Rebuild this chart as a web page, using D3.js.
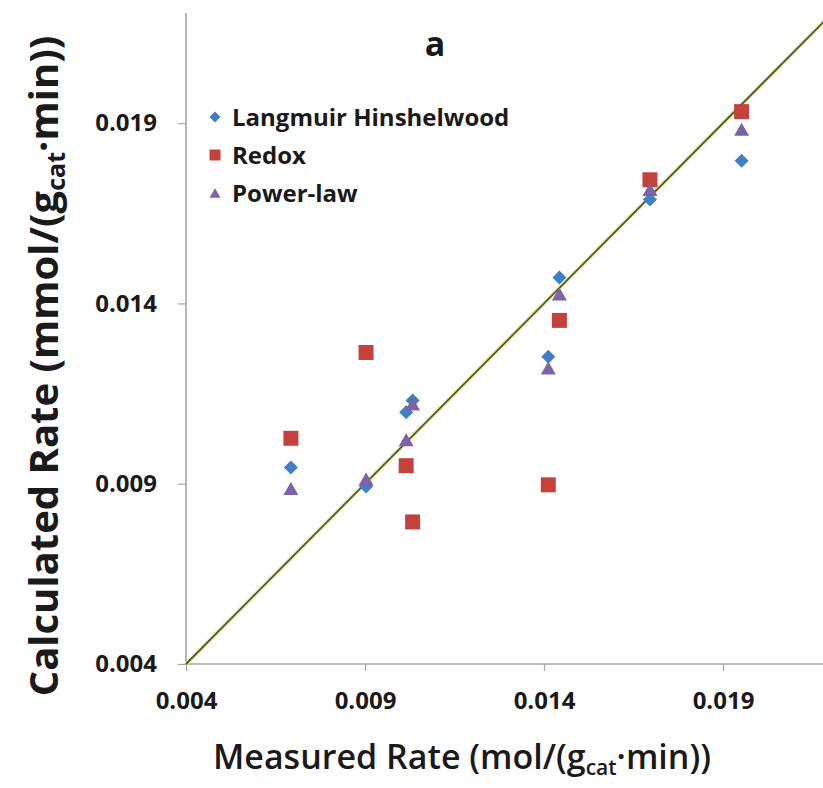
<!DOCTYPE html>
<html>
<head>
<meta charset="utf-8">
<script src="https://cdn.jsdelivr.net/npm/d3@7"></script>
<style>
  html, body { margin: 0; padding: 0; background: #fff; }
  svg { display: block; }
  text { font-family: "Open Sans", "Lato", sans-serif; fill: #1a1a1a; }
</style>
</head>
<body>
<svg id="chart" width="823" height="788"></svg>
<script>
// Measured vs. calculated reaction rates for three kinetic models
const measured   = [0.00693, 0.00903, 0.01015, 0.01033, 0.01412, 0.01443, 0.01696, 0.01952];
const langmuirHW = [0.00945, 0.00892, 0.01098, 0.01131, 0.01252, 0.01472, 0.01688, 0.01796];
const redox      = [0.01026, 0.01264, 0.00950, 0.00794, 0.00897, 0.01353, 0.01743, 0.01932];
const powerLaw   = [0.00887, 0.00913, 0.01022, 0.01121, 0.01221, 0.01426, 0.01716, 0.01883];
const seriesNames = ["Langmuir Hinshelwood", "Redox", "Power-law"];
const tickValues = [0.004, 0.009, 0.014, 0.019];
const parityLine = [0.004, 0.0225];

const svg = d3.select("#chart");
const W = 823, H = 788;
const margin = { left: 186, top: 15, bottom: 124 };

const x = d3.scaleLinear().domain([0.004, 0.022]).range([margin.left, margin.left + 18 * 35.8]);
const y = d3.scaleLinear().domain([0.004, 0.022]).range([H - margin.bottom, margin.top]);

// marker shapes drawn as custom d3 symbol types (size = full width in px)
const diamond = { draw(ctx, s) { const r = s / 2; ctx.moveTo(0, -r); ctx.lineTo(r, 0); ctx.lineTo(0, r); ctx.lineTo(-r, 0); ctx.closePath(); } };
const square  = { draw(ctx, s) { const r = s / 2; ctx.rect(-r, -r, s, s); } };
const triangle = { draw(ctx, s) { const r = s / 2, h = s * 0.87; ctx.moveTo(0, -h / 2); ctx.lineTo(r, h / 2); ctx.lineTo(-r, h / 2); ctx.closePath(); } };

const series = [
  { name: seriesNames[0], values: langmuirHW, shape: diamond,  size: 14, color: "#3f7fc6" },
  { name: seriesNames[1], values: redox,      shape: square,   size: 15, color: "#c4413c" },
  { name: seriesNames[2], values: powerLaw,   shape: triangle, size: 15, color: "#7d62a8" }
];

const axisColor = "#a6a6a6";

// axes
const xAxis = svg.append("g")
  .attr("transform", `translate(0,${y(0.004)})`)
  .call(d3.axisBottom(x).tickValues(tickValues).tickSize(7).tickFormat(d3.format(".3f")).tickSizeOuter(0));
xAxis.select(".domain").remove();
xAxis.append("line").attr("x1", x(0.004)).attr("x2", W).attr("stroke", axisColor).attr("stroke-width", 1.6);
xAxis.selectAll(".tick line").attr("stroke", axisColor).attr("stroke-width", 1.2);
xAxis.selectAll(".tick text")
  .attr("y", 28).attr("dy", "0.71em")
  .style("font-size", "24px").style("font-weight", 700).attr("fill", "#1a1a1a");

const yAxis = svg.append("g")
  .attr("transform", `translate(${x(0.004)},0)`)
  .call(d3.axisLeft(y).tickValues(tickValues).tickSize(8).tickFormat(d3.format(".3f")).tickSizeOuter(0));
yAxis.select(".domain").remove();
yAxis.append("line").attr("y1", y(0.004)).attr("y2", 13).attr("stroke", axisColor).attr("stroke-width", 1.6);
yAxis.selectAll(".tick line").attr("stroke", axisColor).attr("stroke-width", 1.2);
yAxis.selectAll(".tick text")
  .attr("x", -29)
  .style("font-size", "24px").style("font-weight", 700).attr("fill", "#1a1a1a");

// y = x parity line
const line = d3.line().x(d => x(d)).y(d => y(d));
svg.append("path").datum(parityLine).attr("d", line)
  .attr("fill", "none").attr("stroke", "#e6e8a8").attr("stroke-width", 4.5).attr("opacity", 0.7);
svg.append("path").datum(parityLine).attr("d", line)
  .attr("fill", "none").attr("stroke", "#4f5d1c").attr("stroke-width", 1.8);

// data markers
series.forEach(s => {
  svg.append("g").selectAll("path")
    .data(s.values.map((v, i) => [measured[i], v]))
    .join("path")
    .attr("transform", d => `translate(${x(d[0])},${y(d[1])})`)
    .attr("d", d3.symbol(s.shape, s.size))
    .attr("fill", s.color);
});

// legend
const legend = svg.append("g").attr("transform", "translate(215,117)");
series.forEach((s, i) => {
  const row = legend.append("g").attr("transform", `translate(0,${i * 38})`);
  row.append("path").attr("d", d3.symbol(s.shape, 11)).attr("fill", s.color);
  row.append("text").attr("x", 17).attr("dy", "0.36em")
    .style("font-size", "24px").style("font-weight", 700).text(s.name);
});

// panel label
svg.append("text").attr("x", 435).attr("y", 56).attr("text-anchor", "middle")
  .style("font-size", "34px").style("font-weight", 700).text("a");

// axis titles
const xt = svg.append("text").attr("x", 462).attr("y", 769).attr("text-anchor", "middle")
  .style("font-size", "34px").style("font-weight", 600);
xt.append("tspan").text("Measured Rate (mol/(g");
xt.append("tspan").attr("dy", 6).style("font-size", "21px").text("cat");
xt.append("tspan").attr("dy", -6).text("\u00b7min))");

const yt = svg.append("text").attr("transform", "translate(58,366) rotate(-90)").attr("text-anchor", "middle")
  .style("font-size", "40px").style("font-weight", 700);
yt.append("tspan").text("Calculated Rate (mmol/(g");
yt.append("tspan").attr("dy", 7).style("font-size", "25px").text("cat");
yt.append("tspan").attr("dy", -7).text("\u00b7min))");
</script>
</body>
</html>
